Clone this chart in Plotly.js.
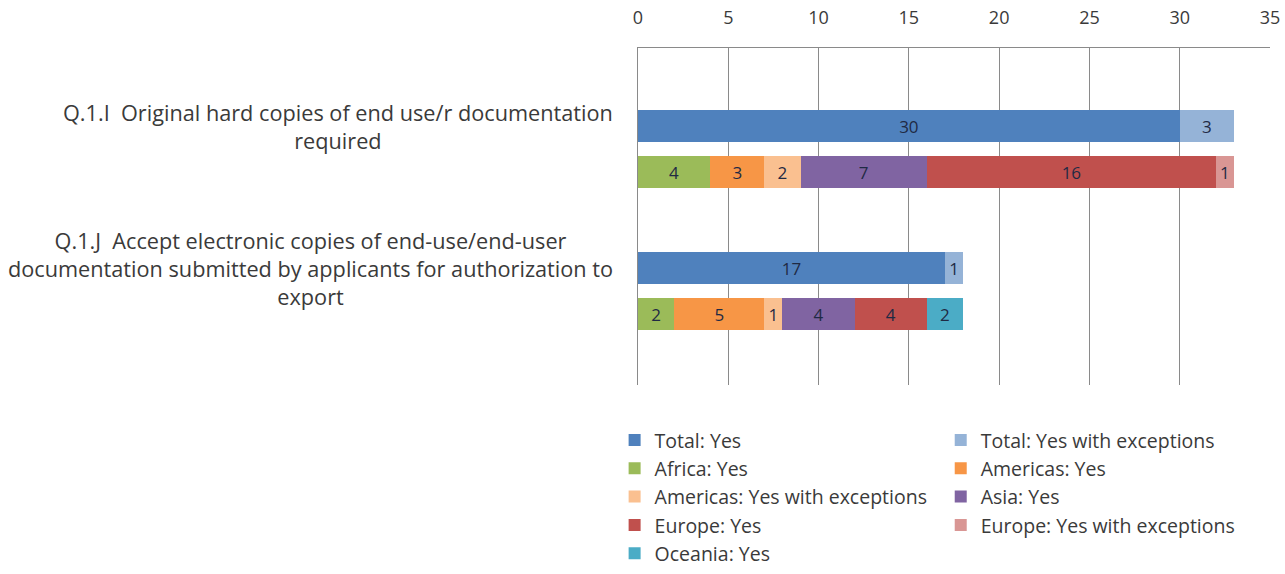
<!DOCTYPE html>
<html>
<head>
<meta charset="utf-8">
<script src="https://cdn.plot.ly/plotly-3.0.1.min.js"></script>
<style>html,body{margin:0;padding:0;background:#fff;}#chart{width:1285px;height:574px;}</style>
</head>
<body>
<div id="chart"></div>
<script>
// Questions (categories)
const categories = [
  'Q.1.I  Original hard copies of end use/r documentation<br>required',
  'Q.1.J  Accept electronic copies of end-use/end-user<br>documentation submitted by applicants for authorization to<br>export'
];
// Total row series
const totalYes = [30, 17];
const totalYesExc = [3, 1];
// Regional row series
const africaYes = [4, 2];
const americasYes = [3, 5];
const americasYesExc = [2, 1];
const asiaYes = [7, 4];
const europeYes = [16, 4];
const europeYesExc = [1, 0];
const oceaniaYes = [0, 2];

const xTicks = [0, 5, 10, 15, 20, 25, 30, 35];

const groupStep = 3.09;   // spacing between question groups (rows)
const totalRow = categories.map((c, i) => i * groupStep);
const regionRow = categories.map((c, i) => i * groupStep + 1);

const FONT = 'Open Sans, Noto Sans, sans-serif';
const LABEL_COLOR = '#1f2a44';
const TEXT_COLOR = '#3a3a3a';

function mk(name, values, rows, color, legendId) {
  return {
    type: 'bar', orientation: 'h', name: name,
    x: values, y: rows, width: 0.7,
    marker: {color: color},
    text: values.map(v => v ? String(v) : ''),
    textposition: 'inside', insidetextanchor: 'middle', textangle: 0,
    constraintext: 'none',
    textfont: {family: FONT, size: 17, color: LABEL_COLOR},
    legend: legendId, legendgroup: name,
    hoverinfo: 'x+name'
  };
}

const data = [
  mk('Total: Yes', totalYes, totalRow, '#4F81BD', 'legend'),
  mk('Total: Yes with exceptions', totalYesExc, totalRow, '#95B3D7', 'legend2'),
  mk('Africa: Yes', africaYes, regionRow, '#9BBB59', 'legend'),
  mk('Americas: Yes', americasYes, regionRow, '#F79646', 'legend2'),
  mk('Americas: Yes with exceptions', americasYesExc, regionRow, '#FAC090', 'legend'),
  mk('Asia: Yes', asiaYes, regionRow, '#8064A2', 'legend2'),
  mk('Europe: Yes', europeYes, regionRow, '#C0504D', 'legend'),
  mk('Europe: Yes with exceptions', europeYesExc, regionRow, '#D99694', 'legend2'),
  mk('Oceania: Yes', oceaniaYes, regionRow, '#4BACC6', 'legend')
];

const annotations = categories.map((c, i) => ({
  text: c, xref: 'paper', yref: 'y', x: -0.0364, y: totalRow[i],
  xanchor: 'right', yanchor: 'middle', align: 'center', showarrow: false,
  font: {family: FONT, size: 21.7, color: TEXT_COLOR}
}));

const legendBase = {
  orientation: 'v', yanchor: 'top', y: -0.106, xanchor: 'left',
  font: {family: FONT, size: 19.5, color: TEXT_COLOR},
  traceorder: 'normal', tracegroupgap: 0, itemclick: false,
  bgcolor: 'rgba(0,0,0,0)'
};

const layout = {
  width: 1285, height: 574,
  margin: {l: 638, r: 15, t: 48, b: 189, autoexpand: false},
  paper_bgcolor: '#ffffff', plot_bgcolor: '#ffffff',
  barmode: 'stack', bargap: 0,
  showlegend: true,
  xaxis: {
    side: 'top', range: [0, 35], tickvals: xTicks,
    showgrid: true, gridcolor: '#8a8a8a', gridwidth: 1,
    showline: true, linecolor: '#8a8a8a', linewidth: 1,
    ticks: 'inside', ticklen: 6, tickcolor: '#8a8a8a',
    ticklabelstandoff: 16,
    zeroline: false, fixedrange: true,
    tickfont: {family: FONT, size: 18, color: TEXT_COLOR}
  },
  yaxis: {
    range: [5.63, -1.70], showticklabels: false, showgrid: false,
    zeroline: false, showline: true, linecolor: '#8a8a8a', linewidth: 1,
    ticks: '', fixedrange: true
  },
  legend: Object.assign({}, legendBase, {x: -0.037}),
  legend2: Object.assign({}, legendBase, {x: 0.479}),
  annotations: annotations
};

Plotly.newPlot('chart', data, layout, {displayModeBar: false, staticPlot: true});
</script>
</body>
</html>
